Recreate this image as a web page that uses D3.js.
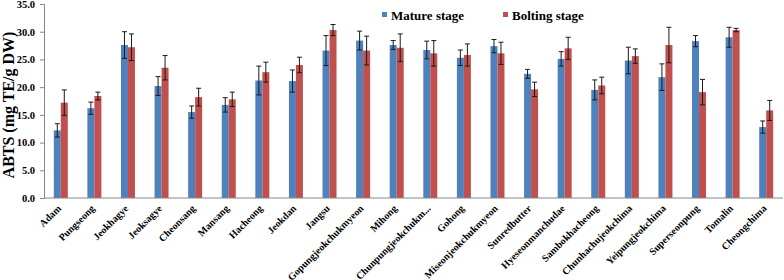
<!DOCTYPE html>
<html>
<head>
<meta charset="utf-8">
<script src="https://cdn.jsdelivr.net/npm/d3@7/dist/d3.min.js"></script>
<style>
	body { margin: 0; background: #fff; }
	svg text { font-family: "Liberation Serif", "Times New Roman", serif; font-weight: bold; }
</style>
</head>
<body>
<div id="chart"></div>
<script>
const cultivars = ["Adam", "Pungseong", "Jeokhagye", "Jeoksagye", "Cheonsang", "Mansang", "Hacheong", "Jeokdan", "Jangsu",
	"Gopungjeokchukmyeon", "Mihong", "Chunpungjeokchukm...", "Gohong", "Miseonjeokchukmyeon", "Sunredbutter", "Hyeseonmanchudae",
	"Sambokhacheong", "Chunhachujeokchima", "Yeipungjeokchima", "Superseonpung", "Tomalin", "Cheongchima"];
const stages = ["Mature stage", "Bolting stage"];
const mature = [12.2, 16.2, 27.6, 20.2, 15.5, 16.8, 21.2, 21.1, 26.6, 28.4, 27.6, 26.7, 25.3, 27.4, 22.4, 25.1, 19.5, 24.8, 21.8, 28.3, 29.0, 12.8];
const matureErr = [1.2, 1.1, 2.4, 1.7, 1.1, 1.3, 2.6, 2.0, 2.7, 1.7, 0.8, 1.6, 1.4, 1.2, 0.8, 1.3, 1.8, 2.4, 2.4, 1.0, 1.8, 1.1];
const bolting = [17.2, 18.4, 27.2, 23.5, 18.2, 17.8, 22.7, 24.0, 30.3, 26.6, 27.1, 26.1, 25.8, 26.1, 19.6, 27.0, 20.3, 25.6, 27.6, 19.1, 30.3, 15.8];
const boltingErr = [2.3, 0.7, 2.4, 2.2, 1.6, 1.3, 1.8, 1.4, 1.0, 2.6, 2.5, 2.3, 2.0, 2.0, 1.3, 2.0, 1.5, 1.3, 3.2, 2.3, 0.3, 1.8];
const yTicks = [0, 5, 10, 15, 20, 25, 30, 35];
const colors = ["#4f81bd", "#c0504d"];

const width = 784, height = 280;
const plotLeft = 44, plotRight = 783, plotTop = 4, plotBottom = 198;

const svg = d3.select("#chart").append("svg")
	.attr("width", width)
	.attr("height", height);

const x0 = d3.scaleBand().domain(cultivars).range([plotLeft, plotRight]);
const x1 = d3.scaleBand().domain(stages)
	.range([x0.bandwidth() / 2 - 7, x0.bandwidth() / 2 + 7]);
const y = d3.scaleLinear().domain([0, 35]).range([plotBottom, plotTop]);

// Rows per cultivar
const rows = cultivars.map((c, i) => ({
	name: c,
	vals: [
		{ stage: stages[0], v: mature[i], e: matureErr[i] },
		{ stage: stages[1], v: bolting[i], e: boltingErr[i] }
	]
}));

// Y axis
const yAxis = svg.append("g")
	.attr("transform", `translate(${plotLeft},0)`)
	.call(d3.axisLeft(y).tickValues(yTicks).tickSize(4).tickFormat(d3.format(".1f")));
yAxis.select(".domain").attr("stroke", "#868686");
yAxis.selectAll(".tick line").attr("stroke", "#868686");
yAxis.selectAll(".tick text")
	.attr("font-size", "10.5px")
	.attr("fill", "#000")
	.attr("x", -9);

svg.append("text")
	.attr("transform", `translate(13.5,${(plotTop + plotBottom) / 2 + 4}) rotate(-90)`)
	.attr("text-anchor", "middle")
	.attr("font-size", "16px")
	.text("ABTS (mg TE/g DW)");

// Bars
const groups = svg.append("g")
	.selectAll("g")
	.data(rows)
	.enter()
	.append("g")
	.attr("transform", d => `translate(${x0(d.name)},0)`);

groups.selectAll("rect")
	.data(d => d.vals)
	.enter()
	.append("rect")
	.attr("x", d => x1(d.stage))
	.attr("width", x1.bandwidth())
	.attr("y", d => y(d.v))
	.attr("height", d => y(0) - y(d.v))
	.attr("fill", (d, i) => colors[i]);

// Error bars
const err = groups.selectAll("g.err")
	.data(d => d.vals)
	.enter()
	.append("g")
	.classed("err", true)
	.attr("stroke", "#1a1a1a")
	.attr("stroke-width", 1);
const cx = d => x1(d.stage) + x1.bandwidth() / 2;
err.append("line")
	.attr("x1", cx).attr("x2", cx)
	.attr("y1", d => y(d.v + d.e)).attr("y2", d => y(d.v - d.e));
err.append("line")
	.attr("x1", d => cx(d) - 2.5).attr("x2", d => cx(d) + 2.5)
	.attr("y1", d => y(d.v + d.e)).attr("y2", d => y(d.v + d.e));
err.append("line")
	.attr("x1", d => cx(d) - 2.5).attr("x2", d => cx(d) + 2.5)
	.attr("y1", d => y(d.v - d.e)).attr("y2", d => y(d.v - d.e));

// X axis
svg.append("line")
	.attr("x1", plotLeft).attr("x2", plotRight)
	.attr("y1", y(0)).attr("y2", y(0))
	.attr("stroke", "#868686");

svg.append("g")
	.selectAll("text")
	.data(cultivars)
	.enter()
	.append("text")
	.attr("transform", d => `translate(${x0(d) + x0.bandwidth() / 2 + 1},${plotBottom + 11}) rotate(-45)`)
	.attr("text-anchor", "end")
	.attr("font-size", "10px")
	.text(d => d);

// Legend
const legend = svg.append("g")
	.selectAll("g")
	.data(stages)
	.enter()
	.append("g")
	.attr("transform", (d, i) => `translate(${382 + i * 121},0)`);
legend.append("rect")
	.attr("y", 12)
	.attr("width", 5)
	.attr("height", 5)
	.attr("fill", (d, i) => colors[i]);
legend.append("text")
	.attr("x", 9)
	.attr("y", 20)
	.attr("font-size", "13px")
	.text(d => d);
</script>
</body>
</html>
